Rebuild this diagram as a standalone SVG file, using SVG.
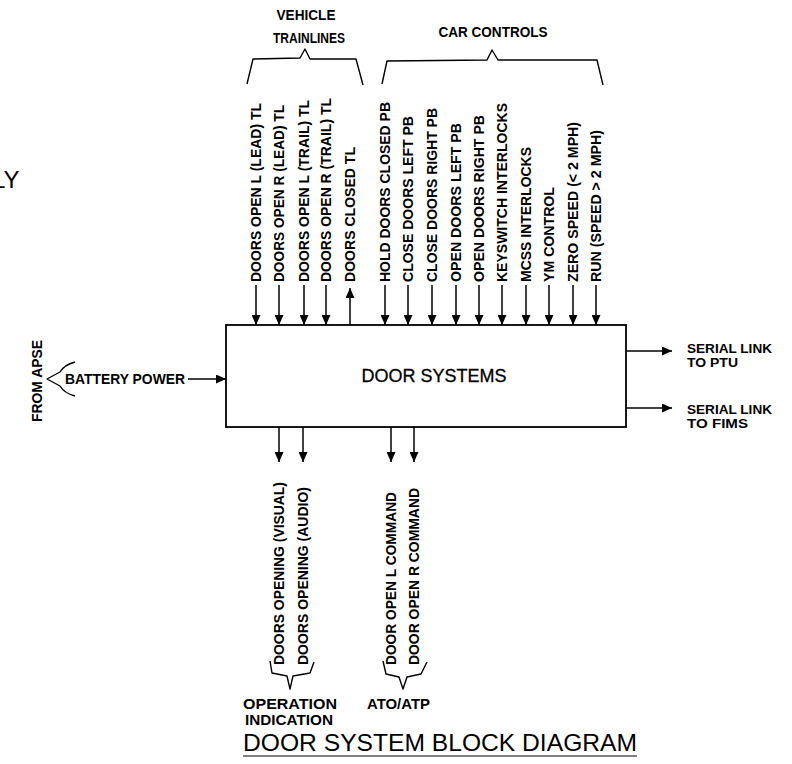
<svg xmlns="http://www.w3.org/2000/svg" width="792" height="764" viewBox="0 0 792 764">
<defs>
<marker id="ah" viewBox="0 0 10 9" refX="10" refY="4.5" markerWidth="10" markerHeight="9" markerUnits="userSpaceOnUse" orient="auto">
<path d="M0,0 L10,4.5 L0,9 z" fill="#000"/>
</marker>
<style>
.t{font-family:"Liberation Sans",Arial,sans-serif;fill:#000}
.b{font-weight:bold;font-size:14px}
.s{font-size:12px}
.c{stroke:#000;stroke-width:1.5;fill:none;marker-end:url(#ah)}
.br{stroke:#000;stroke-width:1.4;fill:none;stroke-linejoin:round}
</style>
</defs>
<rect width="792" height="764" fill="#fff"/>

<text class="t" x="-8" y="188" font-size="24">LY</text>

<g id="door-systems">
<rect x="226" y="325" width="400" height="102" fill="#fff" stroke="#000" stroke-width="1.8"/>
<text class="t" x="434" y="382" font-size="18" text-anchor="middle" stroke="#000" stroke-width="0.3">DOOR SYSTEMS</text>
</g>

<g id="vehicle-trainlines">
<text class="t b" x="306" y="20" text-anchor="middle" textLength="59" lengthAdjust="spacingAndGlyphs">VEHICLE</text>
<text class="t b" x="309" y="43" text-anchor="middle" textLength="72" lengthAdjust="spacingAndGlyphs">TRAINLINES</text>
<path class="br" d="M247,84 L253,59 L300,58 L305,49 L310,59 L356,59 L363,85"/>
</g>

<g id="car-controls">
<text class="t b" x="493" y="37" text-anchor="middle" textLength="109" lengthAdjust="spacingAndGlyphs">CAR CONTROLS</text>
<path class="br" d="M382,84 L387,61 L487,60 L492,50 L498,60 L597,60 L603,85"/>
</g>

<g id="top-labels">
<text class="t b" transform="translate(261,282) rotate(-90)" textLength="179" lengthAdjust="spacingAndGlyphs">DOORS OPEN L (LEAD) TL</text>
<text class="t b" transform="translate(284,282) rotate(-90)" textLength="177" lengthAdjust="spacingAndGlyphs">DOORS OPEN R (LEAD) TL</text>
<text class="t b" transform="translate(309,282) rotate(-90)" textLength="182" lengthAdjust="spacingAndGlyphs">DOORS OPEN L (TRAIL) TL</text>
<text class="t b" transform="translate(331,282) rotate(-90)" textLength="184" lengthAdjust="spacingAndGlyphs">DOORS OPEN R (TRAIL) TL</text>
<text class="t b" transform="translate(355,282) rotate(-90)" textLength="135" lengthAdjust="spacingAndGlyphs">DOORS CLOSED TL</text>
<text class="t b" transform="translate(390,282) rotate(-90)" textLength="180" lengthAdjust="spacingAndGlyphs">HOLD DOORS CLOSED PB</text>
<text class="t b" transform="translate(413,282) rotate(-90)" textLength="166" lengthAdjust="spacingAndGlyphs">CLOSE DOORS LEFT PB</text>
<text class="t b" transform="translate(437,282) rotate(-90)" textLength="174" lengthAdjust="spacingAndGlyphs">CLOSE DOORS RIGHT PB</text>
<text class="t b" transform="translate(461,282) rotate(-90)" textLength="159" lengthAdjust="spacingAndGlyphs">OPEN DOORS LEFT PB</text>
<text class="t b" transform="translate(484,282) rotate(-90)" textLength="167" lengthAdjust="spacingAndGlyphs">OPEN DOORS RIGHT PB</text>
<text class="t b" transform="translate(507,282) rotate(-90)" textLength="179" lengthAdjust="spacingAndGlyphs">KEYSWITCH INTERLOCKS</text>
<text class="t b" transform="translate(531,282) rotate(-90)" textLength="135" lengthAdjust="spacingAndGlyphs">MCSS INTERLOCKS</text>
<text class="t b" transform="translate(554,282) rotate(-90)" textLength="95" lengthAdjust="spacingAndGlyphs">YM CONTROL</text>
<text class="t b" transform="translate(578,282) rotate(-90)" textLength="160" lengthAdjust="spacingAndGlyphs">ZERO SPEED (&lt; 2 MPH)</text>
<text class="t b" transform="translate(601,282) rotate(-90)" textLength="152" lengthAdjust="spacingAndGlyphs">RUN (SPEED &gt; 2 MPH)</text>
</g>

<g id="battery-power">
<text class="t b" transform="translate(41.5,422) rotate(-90)" font-size="16" textLength="82" lengthAdjust="spacingAndGlyphs">FROM APSE</text>
<path class="br" d="M75,362 Q64,365 60,372 L47,379 L60,386 Q64,393 75,396"/>
<text class="t b" x="65" y="384" font-size="15" textLength="120" lengthAdjust="spacingAndGlyphs">BATTERY POWER</text>
</g>

<g id="serial-ptu">
<text class="t b s" x="687" y="353" textLength="85" lengthAdjust="spacingAndGlyphs">SERIAL LINK</text>
<text class="t b s" x="687" y="367" textLength="51" lengthAdjust="spacingAndGlyphs">TO PTU</text>
</g>
<g id="serial-fims">
<text class="t b s" x="687" y="414" textLength="85" lengthAdjust="spacingAndGlyphs">SERIAL LINK</text>
<text class="t b s" x="687" y="428" textLength="61" lengthAdjust="spacingAndGlyphs">TO FIMS</text>
</g>

<g id="operation-indication">
<text class="t b" transform="translate(284,665) rotate(-90)" textLength="183" lengthAdjust="spacingAndGlyphs">DOORS OPENING (VISUAL)</text>
<text class="t b" transform="translate(308,665) rotate(-90)" textLength="178" lengthAdjust="spacingAndGlyphs">DOORS OPENING (AUDIO)</text>
<path class="br" d="M270,661 L272,673 L287,676 L290,689 L293,676 L310,673 L314,662"/>
<text class="t b" x="243" y="709" textLength="94" lengthAdjust="spacingAndGlyphs">OPERATION</text>
<text class="t b" x="245" y="725" textLength="88" lengthAdjust="spacingAndGlyphs">INDICATION</text>
</g>

<g id="ato-atp">
<text class="t b" transform="translate(396,665) rotate(-90)" textLength="173" lengthAdjust="spacingAndGlyphs">DOOR OPEN L COMMAND</text>
<text class="t b" transform="translate(419,665) rotate(-90)" textLength="177" lengthAdjust="spacingAndGlyphs">DOOR OPEN R COMMAND</text>
<path class="br" d="M383,661 L386,674 L399,677 L403,689 L407,677 L421,674 L427,662"/>
<text class="t b" x="367" y="709" textLength="63" lengthAdjust="spacingAndGlyphs">ATO/ATP</text>
</g>

<g id="connectors">
<line class="c" x1="256" y1="285" x2="256" y2="325"/>
<line class="c" x1="279" y1="285" x2="279" y2="325"/>
<line class="c" x1="304" y1="285" x2="304" y2="325"/>
<line class="c" x1="326" y1="285" x2="326" y2="325"/>
<line class="c" x1="350" y1="325" x2="350" y2="288"/>
<line class="c" x1="385" y1="285" x2="385" y2="325"/>
<line class="c" x1="408" y1="285" x2="408" y2="325"/>
<line class="c" x1="432" y1="285" x2="432" y2="325"/>
<line class="c" x1="456" y1="285" x2="456" y2="325"/>
<line class="c" x1="479" y1="285" x2="479" y2="325"/>
<line class="c" x1="502" y1="285" x2="502" y2="325"/>
<line class="c" x1="526" y1="285" x2="526" y2="325"/>
<line class="c" x1="549" y1="285" x2="549" y2="325"/>
<line class="c" x1="573" y1="285" x2="573" y2="325"/>
<line class="c" x1="596" y1="285" x2="596" y2="325"/>
<line class="c" x1="188" y1="379" x2="226" y2="379"/>
<line class="c" x1="626" y1="351" x2="672" y2="351"/>
<line class="c" x1="626" y1="408" x2="672" y2="408"/>
<line class="c" x1="279" y1="427" x2="279" y2="462"/>
<line class="c" x1="303" y1="427" x2="303" y2="462"/>
<line class="c" x1="391" y1="427" x2="391" y2="462"/>
<line class="c" x1="414" y1="427" x2="414" y2="462"/>
</g>

<g id="title">
<text class="t" x="243" y="751" font-size="24" textLength="394" lengthAdjust="spacingAndGlyphs">DOOR SYSTEM BLOCK DIAGRAM</text>
<line x1="243" y1="756" x2="637" y2="756" stroke="#000" stroke-width="1.2"/>
</g>
</svg>
